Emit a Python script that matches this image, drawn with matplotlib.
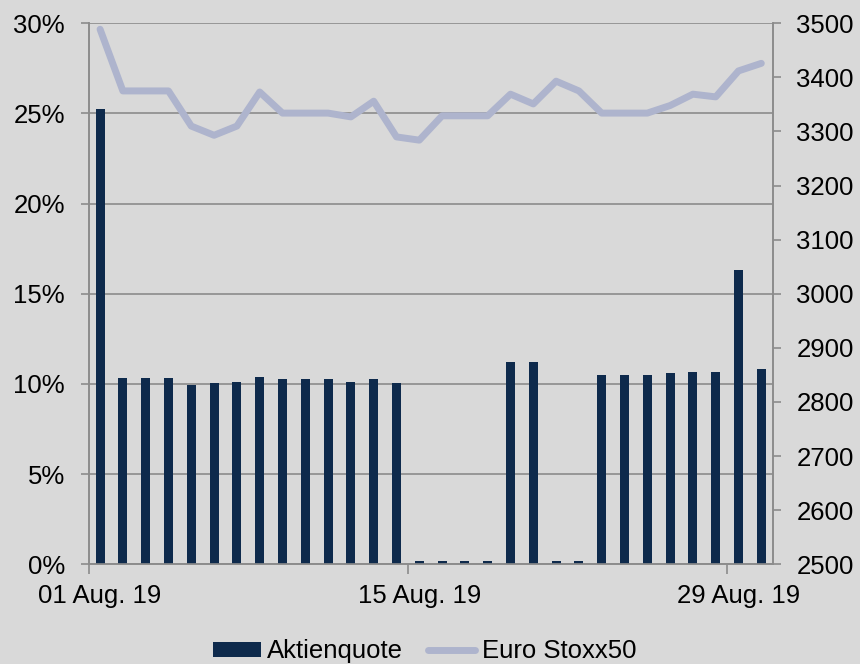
import datetime as dt

import matplotlib
matplotlib.use('Agg')
import matplotlib.pyplot as plt
import matplotlib.dates as mdates
from matplotlib.ticker import FuncFormatter, FixedLocator

plt.rcParams['font.family'] = ['Liberation Sans', 'DejaVu Sans']

# daily data, August 2019
days = list(range(1, 31))
aktienquote = [25.25, 10.31, 10.31, 10.31, 9.94, 10.07, 10.13, 10.37, 10.26, 10.26,
               10.26, 10.09, 10.26, 10.07, 0.2, 0.2, 0.2, 0.2, 11.24, 11.2,
               0.2, 0.2, 10.52, 10.52, 10.52, 10.61, 10.65, 10.65, 16.32, 10.85]
euro_stoxx50 = [3489, 3375, 3375, 3375, 3310, 3293, 3310, 3373, 3334, 3334,
                3334, 3327, 3356, 3290, 3284, 3329, 3329, 3329, 3369, 3351,
                3393, 3375, 3334, 3334, 3334, 3348, 3369, 3364, 3412, 3426]
tick_days = [1, 15, 29]

BG = '#d9d9d9'
BAR = '#0e2a4c'
LINE = '#aeb4cd'
AXIS = '#8c8c8c'
FS = 18.5

dates = [dt.datetime(2019, 8, d) for d in days]
centers = [d + dt.timedelta(hours=12) for d in dates]

fig = plt.figure(figsize=(8.6, 6.64), dpi=100, facecolor=BG)
ax = fig.add_axes([0.1031, 0.1502, 0.7954, 0.8147])
ax.set_facecolor(BG)
ax2 = ax.twinx()

ax.bar(centers, aktienquote, width=0.4, color=BAR, zorder=3, label='Aktienquote')
ax2.plot(centers, euro_stoxx50, color=LINE, lw=5, solid_capstyle='round',
         solid_joinstyle='round', label='Euro Stoxx50')

ax.set_xlim(dt.datetime(2019, 8, 1), dt.datetime(2019, 8, 31))
ax.set_ylim(0, 30)
ax.set_yticks(range(0, 31, 5))
ax.yaxis.set_major_formatter(FuncFormatter(lambda v, p: f'{v:.0f}%'))
ax2.set_ylim(2500, 3500)
ax2.set_yticks(range(2500, 3501, 100))

ax.grid(axis='y', color=AXIS, lw=1.2, zorder=0)
ax.set_axisbelow(True)

# tick marks at the dates, labels centred between them
tick_dates = [dt.datetime(2019, 8, d) for d in tick_days]
ax.xaxis.set_major_locator(FixedLocator(mdates.date2num(tick_dates)))
ax.xaxis.set_major_formatter(FuncFormatter(lambda v, p: ''))
label_pos = [d + dt.timedelta(hours=12) for d in tick_dates]
ax.xaxis.set_minor_locator(FixedLocator(mdates.date2num(label_pos)))
ax.xaxis.set_minor_formatter(mdates.DateFormatter('%d %b. %y'))

ax.tick_params(axis='x', which='major', length=7, width=1.2, color=AXIS, direction='out')
ax.tick_params(axis='x', which='minor', length=0, pad=14, labelsize=FS)
ax.tick_params(axis='y', length=6, width=1.2, color=AXIS, pad=11, labelsize=FS)
ax2.tick_params(axis='y', length=6, width=1.2, color=AXIS, pad=11, labelsize=FS)

for a in (ax, ax2):
    a.spines['top'].set_visible(False)
    for side in ('left', 'right', 'bottom'):
        a.spines[side].set_color(AXIS)
        a.spines[side].set_linewidth(1.2)

h1, l1 = ax.get_legend_handles_labels()
h2, l2 = ax2.get_legend_handles_labels()
fig.legend(h1 + h2, l1 + l2, loc='center', bbox_to_anchor=(0.494, 0.019), ncol=2,
           frameon=False, fontsize=FS, handlelength=1.85, handleheight=0.55,
           handletextpad=0.25, columnspacing=0.95, borderpad=0.1)

fig.savefig('out.png', dpi=100, facecolor=BG)
